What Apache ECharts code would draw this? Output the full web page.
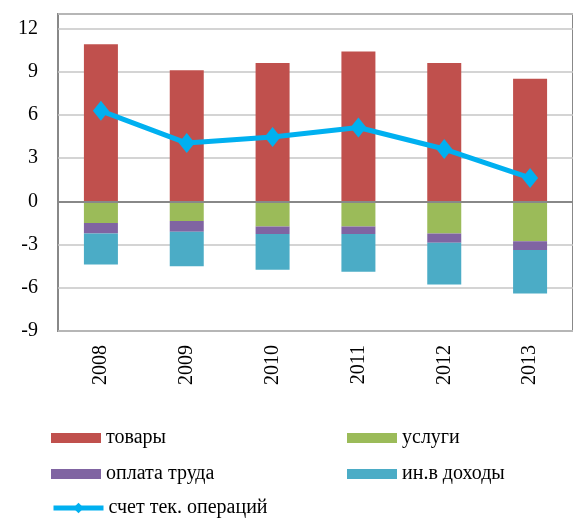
<!DOCTYPE html>
<html>
<head>
    <meta charset="utf-8">
    <title>Счет текущих операций</title>
    <script src="https://cdn.jsdelivr.net/npm/echarts@6/dist/echarts.min.js"></script>
    <style>
        html, body { margin: 0; padding: 0; background: #fff; }
        #chart1 { width: 573px; height: 519px; }
    </style>
</head>
<body>
<div id="chart1"></div>
<script type="text/javascript">
    // данные
    var years = ['2008', '2009', '2010', '2011', '2012', '2013'];
    var tovary = [10.9, 9.1, 9.6, 10.4, 9.6, 8.5];
    var uslugi = [-1.5, -1.36, -1.75, -1.75, -2.24, -2.77];
    var oplata = [-0.74, -0.76, -0.51, -0.51, -0.64, -0.6];
    var dohody = [-2.14, -2.38, -2.49, -2.63, -2.89, -3.02];
    var schet = [6.28, 4.04, 4.46, 5.12, 3.63, 1.62];

    var font = 'Liberation Serif, Times New Roman, serif';

    // одна легенда на каждый пункт, чтобы разложить их сеткой 2 x 3
    function leg(name, left, top) {
        return {
            data: [name], left: left, top: top, padding: 0,
            icon: 'rect',
            itemWidth: 50, itemHeight: 10, itemGap: 0,
            textStyle: { fontFamily: font, fontSize: 20, color: '#000', lineHeight: 20 }
        };
    }

    var lineLeg = leg('счет тек. операций', 51, 498);
    delete lineLeg.icon;
    lineLeg.itemHeight = 13;
    lineLeg.lineStyle = { width: 5 };

    var myChart1 = echarts.init(document.getElementById('chart1'));
    myChart1.setOption({
        animation: false,
        textStyle: { fontFamily: font },
        grid: {
            left: 58, top: 14, right: -8, bottom: 188,
            show: true, borderColor: '#888', borderWidth: 2
        },
        legend: [
            leg('товары', 51, 428),
            leg('услуги', 347, 428),
            leg('оплата труда', 51, 464),
            leg('ин.в доходы', 347, 464),
            lineLeg
        ],
        xAxis: {
            type: 'category',
            data: years,
            axisLine: { onZero: false, show: false },
            axisTick: { show: false },
            axisLabel: { rotate: 90, margin: 14, fontSize: 20, color: '#000', fontFamily: font }
        },
        yAxis: {
            type: 'value',
            min: -9, max: 13, interval: 3,
            axisLine: { show: false },
            axisTick: { show: false },
            axisLabel: {
                margin: 20, fontSize: 20, color: '#000', fontFamily: font,
                formatter: function (v) { return v === 13 ? '' : v; }
            },
            splitLine: { lineStyle: { color: '#c6c6c6', width: 1.5 } }
        },
        series: [{
            name: 'товары', type: 'bar', stack: 's', barWidth: 34,
            itemStyle: { color: '#C0504D' }, data: tovary,
            markLine: {
                silent: true, symbol: 'none', label: { show: false },
                lineStyle: { color: '#888', type: 'solid', width: 2 },
                data: [{ yAxis: 0 }]
            }
        }, {
            name: 'услуги', type: 'bar', stack: 's', barWidth: 34,
            itemStyle: { color: '#9BBB59' }, data: uslugi
        }, {
            name: 'оплата труда', type: 'bar', stack: 's', barWidth: 34,
            itemStyle: { color: '#8064A2' }, data: oplata
        }, {
            name: 'ин.в доходы', type: 'bar', stack: 's', barWidth: 34,
            itemStyle: { color: '#4BACC6' }, data: dohody
        }, {
            name: 'счет тек. операций', type: 'line',
            symbol: 'diamond', symbolSize: [16, 20],
            lineStyle: { color: '#00B0F0', width: 5 },
            itemStyle: { color: '#00B0F0' },
            data: schet
        }]
    });
</script>
</body>
</html>
